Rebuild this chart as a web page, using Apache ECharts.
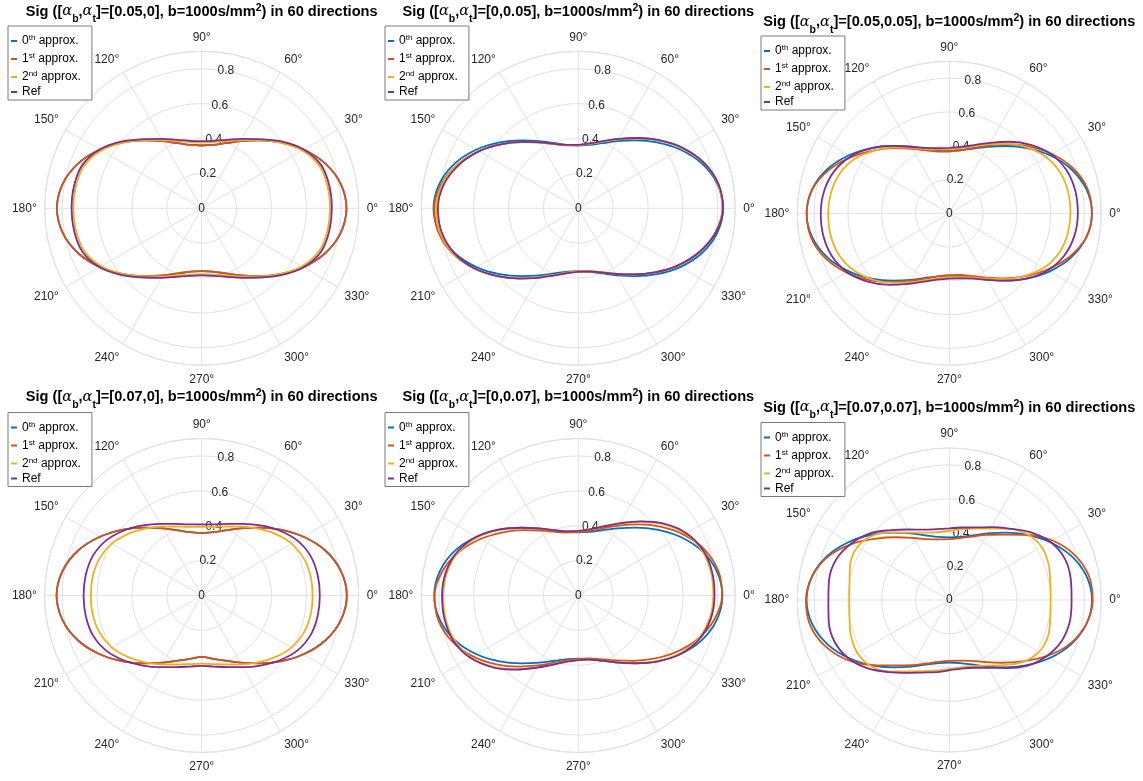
<!DOCTYPE html>
<html><head><meta charset="utf-8">
<script src="https://cdn.jsdelivr.net/npm/echarts@6/dist/echarts.min.js"></script>
<style>html,body{margin:0;padding:0;background:#fff}#c{width:1143px;height:781px}</style>
</head><body><div id="c"></div>
<script>
// ---------- data ----------
const ANGLES = [0,10,20,30,40,50,60,70,80,90,100,110,120,130,140,150,160,170,180,190,200,210,220,230,240,250,260,270,280,290,300,310,320,330,340,350];
const ANGLE_TICKS = [0,30,60,90,120,150,180,210,240,270,300,330];
const R_TICKS = [0,0.2,0.4,0.6,0.8];
const PARAMS = ['[0.05,0]','[0,0.05]','[0.05,0.05]','[0.07,0]','[0,0.07]','[0.07,0.07]'];
const SERIES_NAMES = ['0th approx.','1st approx.','2nd approx.','Ref'];

// panel 1  [0.05,0]
const P1_BLUE   = [.830,.809,.753,.674,.588,.508,.444,.397,.369,.360,.369,.397,.444,.508,.588,.674,.753,.809,.830,.809,.753,.674,.588,.508,.444,.397,.369,.360,.369,.397,.444,.508,.588,.674,.753,.809];
const P1_ORANGE = [.830,.809,.753,.674,.588,.508,.444,.397,.369,.360,.369,.397,.444,.508,.588,.674,.753,.809,.830,.809,.753,.674,.588,.508,.444,.397,.369,.360,.369,.397,.444,.508,.588,.674,.753,.809];
const P1_YELLOW = [.735,.732,.716,.664,.586,.510,.452,.410,.386,.377,.386,.410,.452,.510,.586,.664,.716,.732,.735,.732,.716,.664,.586,.510,.452,.410,.386,.377,.386,.410,.452,.510,.586,.664,.716,.732];
const P1_PURPLE = [.746,.743,.728,.675,.596,.518,.460,.418,.393,.385,.393,.418,.460,.518,.596,.675,.728,.743,.746,.743,.728,.675,.596,.518,.460,.418,.393,.385,.393,.418,.460,.518,.596,.675,.728,.743];

// panel 2  [0,0.05]
const P2_BLUE   = [.830,.809,.753,.674,.588,.508,.444,.397,.369,.360,.369,.397,.444,.508,.588,.674,.753,.809,.830,.809,.753,.674,.588,.508,.444,.397,.369,.360,.369,.397,.444,.508,.588,.674,.753,.809];
const P2_ORANGE = [.826,.813,.764,.690,.605,.524,.457,.406,.375,.362,.367,.391,.435,.495,.572,.657,.737,.798,.826,.813,.764,.690,.605,.524,.457,.406,.375,.362,.367,.391,.435,.495,.572,.657,.737,.798];
const P2_YELLOW = [.826,.813,.764,.690,.605,.524,.457,.406,.375,.362,.367,.391,.435,.495,.572,.657,.735,.792,.815,.805,.760,.690,.605,.524,.457,.406,.375,.362,.367,.391,.435,.495,.572,.657,.737,.798];
const P2_PURPLE = [.830,.815,.766,.692,.607,.526,.460,.410,.378,.364,.369,.393,.437,.497,.572,.655,.728,.783,.805,.795,.755,.688,.605,.526,.460,.410,.378,.364,.368,.391,.435,.495,.572,.657,.737,.800];

// panel 3  [0.05,0.05]
const P3_BLUE   = [.845,.824,.767,.687,.601,.520,.455,.407,.379,.370,.379,.407,.455,.520,.601,.687,.767,.824,.845,.824,.767,.687,.601,.520,.455,.407,.379,.370,.379,.407,.455,.520,.601,.687,.767,.824];
const P3_ORANGE = [.844,.831,.780,.702,.616,.532,.463,.412,.379,.366,.371,.396,.440,.503,.580,.668,.756,.823,.844,.831,.780,.702,.616,.532,.463,.412,.379,.366,.371,.396,.440,.503,.580,.668,.756,.823];
const P3_YELLOW = [.717,.715,.700,.663,.605,.537,.473,.423,.392,.378,.384,.405,.447,.509,.578,.646,.690,.711,.717,.715,.700,.663,.605,.537,.473,.423,.392,.378,.384,.405,.447,.509,.578,.646,.690,.711];
const P3_PURPLE = [.761,.758,.740,.698,.630,.553,.482,.430,.399,.387,.391,.412,.455,.521,.600,.674,.726,.753,.761,.758,.740,.698,.630,.553,.482,.430,.399,.387,.391,.412,.455,.521,.600,.674,.726,.753];

// panel 4  [0.07,0]
const P4_BLUE   = [.832,.810,.754,.674,.588,.508,.444,.397,.369,.358,.369,.397,.444,.508,.588,.674,.754,.810,.832,.810,.754,.674,.588,.508,.444,.397,.369,.352,.369,.397,.444,.508,.588,.674,.754,.810];
const P4_ORANGE = [.832,.810,.754,.674,.588,.508,.444,.397,.369,.358,.369,.397,.444,.508,.588,.674,.754,.810,.832,.810,.754,.674,.588,.508,.444,.397,.369,.352,.369,.397,.444,.508,.588,.674,.754,.810];
const P4_YELLOW = [.636,.634,.623,.595,.550,.500,.456,.421,.399,.394,.399,.421,.456,.500,.550,.595,.623,.634,.636,.634,.623,.595,.550,.500,.456,.421,.399,.390,.399,.421,.456,.500,.550,.595,.623,.634];
const P4_PURPLE = [.677,.675,.664,.632,.580,.524,.474,.437,.414,.408,.414,.437,.474,.524,.580,.632,.664,.675,.677,.675,.664,.632,.580,.524,.474,.437,.414,.403,.414,.437,.474,.524,.580,.632,.664,.675];

// panel 5  [0,0.07]
const P5_BLUE   = [.826,.806,.752,.674,.588,.508,.444,.398,.370,.362,.370,.398,.444,.508,.588,.674,.752,.806,.826,.806,.752,.674,.588,.508,.444,.398,.370,.362,.370,.398,.444,.508,.588,.674,.752,.806];
const P5_ORANGE = [.824,.815,.770,.698,.614,.532,.463,.411,.377,.363,.366,.389,.430,.489,.564,.648,.729,.792,.824,.815,.770,.698,.614,.532,.463,.411,.377,.363,.366,.389,.430,.489,.564,.648,.729,.792];
const P5_YELLOW = [.774,.772,.754,.710,.637,.552,.477,.421,.385,.370,.373,.397,.441,.505,.586,.669,.731,.764,.774,.772,.754,.710,.637,.552,.477,.421,.385,.370,.373,.397,.441,.505,.586,.669,.731,.764];
const P5_PURPLE = [.781,.779,.761,.715,.640,.554,.478,.421,.385,.370,.373,.397,.442,.507,.589,.673,.737,.771,.781,.779,.761,.715,.640,.554,.478,.421,.385,.370,.373,.397,.442,.507,.589,.673,.737,.771];

// panel 6  [0.07,0.07]
const P6_BLUE   = [.845,.824,.767,.687,.601,.520,.455,.407,.379,.370,.379,.407,.455,.520,.601,.687,.767,.824,.845,.824,.767,.687,.601,.520,.455,.407,.379,.370,.379,.407,.455,.520,.601,.687,.767,.824];
const P6_ORANGE = [.849,.838,.787,.705,.600,.506,.446,.400,.372,.360,.364,.383,.424,.485,.565,.665,.760,.823,.849,.838,.787,.705,.600,.506,.446,.400,.372,.360,.364,.383,.424,.485,.565,.665,.760,.823];
const P6_YELLOW = [.600,.607,.625,.630,.605,.550,.488,.450,.427,.410,.408,.424,.460,.522,.593,.628,.624,.600,.592,.600,.620,.628,.608,.553,.488,.449,.424,.410,.405,.417,.448,.503,.570,.614,.622,.607];
const P6_PURPLE = [.724,.730,.726,.690,.625,.552,.498,.457,.436,.424,.426,.443,.482,.540,.614,.670,.711,.722,.716,.725,.723,.690,.630,.557,.498,.457,.434,.416,.412,.427,.463,.526,.604,.665,.708,.725];

const PANEL_DATA = [
  [P1_BLUE,P1_ORANGE,P1_YELLOW,P1_PURPLE],
  [P2_BLUE,P2_ORANGE,P2_YELLOW,P2_PURPLE],
  [P3_BLUE,P3_ORANGE,P3_YELLOW,P3_PURPLE],
  [P4_BLUE,P4_ORANGE,P4_YELLOW,P4_PURPLE],
  [P5_BLUE,P5_ORANGE,P5_YELLOW,P5_PURPLE],
  [P6_BLUE,P6_ORANGE,P6_YELLOW,P6_PURPLE]
];

// ---------- layout / style ----------
const COLORS = ['#0072BD','#D95319','#EDB120','#7E2F8E'];
const LAYOUT = [
  {cx:201.7, cy:208.3, r:157, tx:201.7, ty:1.5,   lx:8,   ly:26},
  {cx:578.3, cy:208.3, r:157, tx:578.3, ty:1.5,   lx:385, ly:26},
  {cx:949.3, cy:213.3, r:152, tx:949.3, ty:12,    lx:761, ly:36},
  {cx:201.7, cy:595.5, r:157, tx:201.7, ty:387,   lx:8,   ly:412.5},
  {cx:578.3, cy:595.5, r:157, tx:578.3, ty:387,   lx:385, ly:412.5},
  {cx:949.3, cy:600,   r:152, tx:949.3, ty:397.5, lx:761, ly:422.5}
];
const GRID = '#e1e1e1';
const TXT = '#262626';
const FONT = 'Liberation Sans, Arial, sans-serif';
const LEGEND_TEXT = {
  '0th approx.': '0{s|th} approx.',
  '1st approx.': '1{s|st} approx.',
  '2nd approx.': '2{s|nd} approx.',
  'Ref': 'Ref'
};

const option = {
  animation: false,
  backgroundColor: '#fff',
  title: [], legend: [], polar: [], angleAxis: [], radiusAxis: [], series: []
};

LAYOUT.forEach((L, p) => {
  option.title.push({
    text: 'Sig ([{g|α}{sb|b},{g|α}{sb|t}]=' + PARAMS[p] + ', b=1000s/mm{sp|2}) in 60 directions',
    left: L.tx, top: L.ty, textAlign: 'center', padding: 0,
    textStyle: {
      fontSize: 14.6, fontWeight: 'bold', color: '#000', fontFamily: FONT, lineHeight: 20,
      rich: {
        g: {fontFamily: 'DejaVu Serif', fontStyle: 'italic', fontWeight: 'normal', fontSize: 14.6, color: '#000'},
        sb: {fontSize: 10.5, fontWeight: 'bold', verticalAlign: 'bottom', height: 4, color: '#000', fontFamily: FONT},
        sp: {fontSize: 10.5, fontWeight: 'bold', verticalAlign: 'top', height: 13, color: '#000', fontFamily: FONT}
      }
    }
  });
  option.legend.push({
    orient: 'vertical', left: L.lx, top: L.ly,
    data: SERIES_NAMES, selectedMode: false,
    icon: 'rect', itemWidth: 6, itemHeight: 2, itemGap: 3,
    padding: [6, 11, 2, 3],
    borderColor: '#7a7a7a', borderWidth: 1, backgroundColor: '#fff',
    formatter: n => LEGEND_TEXT[n],
    textStyle: {
      fontSize: 12, color: '#000', fontFamily: FONT,
      rich: { s: {fontSize: 8, verticalAlign: 'top', lineHeight: 18, height: 12, color: '#000', fontFamily: FONT} }
    }
  });
  // main polar (grid + angle labels + data)
  option.polar.push({center: [L.cx, L.cy], radius: L.r});
  option.angleAxis.push({
    polarIndex: 2 * p, type: 'value', min: 0, max: 360, interval: 30,
    startAngle: 0, clockwise: false,
    axisLine: {show: true, lineStyle: {color: GRID, width: 1}},
    axisTick: {show: false},
    splitLine: {show: true, lineStyle: {color: GRID, width: 1}},
    axisLabel: {
      color: TXT, fontSize: 12, fontFamily: FONT, margin: 8,
      formatter: v => (ANGLE_TICKS.indexOf(v) >= 0 ? v + '°' : '')
    }
  });
  option.radiusAxis.push({
    polarIndex: 2 * p, type: 'value', min: 0, max: 0.9, interval: 0.2,
    axisLine: {show: false}, axisTick: {show: false}, axisLabel: {show: false},
    splitLine: {show: true, lineStyle: {color: GRID, width: 1}}
  });
  // overlay polar for radial tick labels at 80 degrees
  option.polar.push({center: [L.cx, L.cy], radius: L.r});
  option.angleAxis.push({
    polarIndex: 2 * p + 1, type: 'value', min: 0, max: 360, startAngle: 80, show: false
  });
  option.radiusAxis.push({
    polarIndex: 2 * p + 1, type: 'value', min: 0, max: 0.9, interval: 0.2,
    axisLine: {show: false}, axisTick: {show: false}, splitLine: {show: false},
    axisLabel: {
      show: true, showMaxLabel: false, margin: 0, align: 'center', verticalAlign: 'middle',
      color: TXT, fontSize: 12, fontFamily: FONT,
      formatter: v => (R_TICKS.indexOf(Math.round(v * 10) / 10) >= 0 ? String(Math.round(v * 10) / 10) : '')
    }
  });
  PANEL_DATA[p].forEach((vals, s) => {
    const pts = [];
    for (let k = 0; k <= ANGLES.length; k++) {
      const i = (k + 9) % ANGLES.length;
      pts.push([vals[i], ANGLES[i]]);
    }
    option.series.push({
      name: SERIES_NAMES[s], type: 'line', coordinateSystem: 'polar', polarIndex: 2 * p,
      data: pts, showSymbol: false, symbol: 'none', smooth: 0.35,
      lineStyle: {color: COLORS[s], width: 1.8}, itemStyle: {color: COLORS[s]},
      z: 2 + s
    });
  });
});

const chart = echarts.init(document.getElementById('c'), null, {renderer: 'canvas'});
chart.setOption(option);
</script>
</body></html>
